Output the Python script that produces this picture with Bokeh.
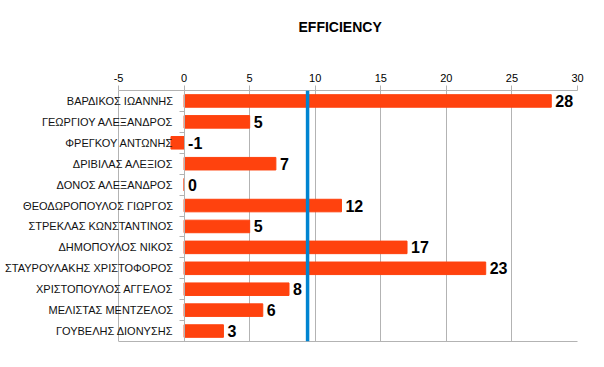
from bokeh.plotting import figure
from bokeh.models import Range1d, FixedTicker, ColumnDataSource, LabelSet, Span, LinearAxis
from bokeh.core.properties import value
from bokeh.embed import file_html
from bokeh.resources import INLINE

names = ["ΒΑΡΔΙΚΟΣ ΙΩΑΝΝΗΣ", "ΓΕΩΡΓΙΟΥ ΑΛΕΞΑΝΔΡΟΣ", "ΦΡΕΓΚΟΥ ΑΝΤΩΝΗΣ", "ΔΡΙΒΙΛΑΣ ΑΛΕΞΙΟΣ",
         "ΔΟΝΟΣ ΑΛΕΞΑΝΔΡΟΣ", "ΘΕΟΔΩΡΟΠΟΥΛΟΣ ΓΙΩΡΓΟΣ", "ΣΤΡΕΚΛΑΣ ΚΩΝΣΤΑΝΤΙΝΟΣ", "ΔΗΜΟΠΟΥΛΟΣ ΝΙΚΟΣ",
         "ΣΤΑΥΡΟΥΛΑΚΗΣ ΧΡΙΣΤΟΦΟΡΟΣ", "ΧΡΙΣΤΟΠΟΥΛΟΣ ΑΓΓΕΛΟΣ", "ΜΕΛΙΣΤΑΣ ΜΕΝΤΖΕΛΟΣ", "ΓΟΥΒΕΛΗΣ ΔΙΟΝΥΣΗΣ"]
efficiency = [28, 5, -1, 7, 0, 12, 5, 17, 23, 8, 6, 3]
x_ticks = [-5, 0, 5, 10, 15, 20, 25, 30]

n = len(names)
ys = [n - 1 - i for i in range(n)]
mean_val = sum(efficiency) / n
GRAY = "#b3b3b3"

src = ColumnDataSource(dict(
    y=ys, v=efficiency, name=names,
    lx=[max(v, 0) for v in efficiency],
    txt=[str(v) for v in efficiency],
))

# frame extends left to leave room for the category labels inside it
p = figure(width=596, height=359, output_backend="svg", toolbar_location=None,
           x_range=Range1d(-14, x_ticks[-1]), y_range=Range1d(-0.5, n - 0.5),
           x_axis_location="above", title="EFFICIENCY",
           min_border_left=0, min_border_right=19, min_border_top=50, min_border_bottom=18)

p.title.align = "left"
p.title.offset = 298
p.title.text_font = "Liberation Sans"
p.title.text_font_size = "14px"
p.title.text_font_style = "bold"
p.title.text_color = "black"
p.title.standoff = 32

p.hbar(y="y", left=0, right="v", height=0.6, source=src, color="#ff420e")

p.add_layout(Span(location=mean_val, dimension="height", line_color="#0084d1", line_width=3.5))

p.add_layout(LabelSet(x="lx", y="y", text="txt", source=src, x_offset=4,
                      text_baseline="middle", text_font=value("Liberation Sans"),
                      text_font_size=value("16px"), text_font_style=value("bold"),
                      text_color=value("black")))

# category axis at x = 0
bounds = [i - 0.5 for i in range(n + 1)]
yax = p.yaxis[0]
yax.fixed_location = 0
yax.ticker = FixedTicker(ticks=ys, minor_ticks=bounds)
yax.major_label_overrides = {y: nm for y, nm in zip(ys, names)}
yax.major_tick_line_color = None
yax.major_tick_out = 0
yax.major_tick_in = 0
yax.minor_tick_line_color = GRAY
yax.minor_tick_out = 5
yax.minor_tick_in = 0
yax.axis_line_color = GRAY
yax.major_label_standoff = 6
yax.major_label_text_font = "Liberation Sans"
yax.major_label_text_font_size = "11px"
yax.major_label_text_color = "#111111"

p.ygrid.visible = False
p.xaxis.ticker = FixedTicker(ticks=x_ticks)
p.xaxis.major_label_overrides = {t: str(t) for t in x_ticks}
p.xaxis.bounds = (x_ticks[0], x_ticks[-1])
p.xgrid.ticker = FixedTicker(ticks=x_ticks)
p.xgrid.grid_line_color = GRAY
p.xaxis.axis_line_color = GRAY
p.xaxis.major_tick_line_color = GRAY
p.xaxis.major_tick_out = 5
p.xaxis.major_tick_in = 0
p.xaxis.minor_tick_line_color = None
p.xaxis.major_label_text_font = "Liberation Sans"
p.xaxis.major_label_text_font_size = "11px"
p.xaxis.major_label_text_color = "black"
p.xaxis.major_label_standoff = 4
# invisible axis label used only as spacing between tick labels and title
p.xaxis.axis_label = "x"
p.xaxis.axis_label_text_alpha = 0
p.xaxis.axis_label_text_font_size = "12px"
p.xaxis.axis_label_standoff = 3

# bottom border line of the plot area
bottom = LinearAxis(bounds=(x_ticks[0], x_ticks[-1]), ticker=FixedTicker(ticks=[]),
                    axis_line_color=GRAY, major_tick_line_color=None,
                    minor_tick_line_color=None, major_label_text_alpha=0)
p.add_layout(bottom, "below")
p.outline_line_color = None

open("out.html", "w").write(file_html(p, INLINE))
